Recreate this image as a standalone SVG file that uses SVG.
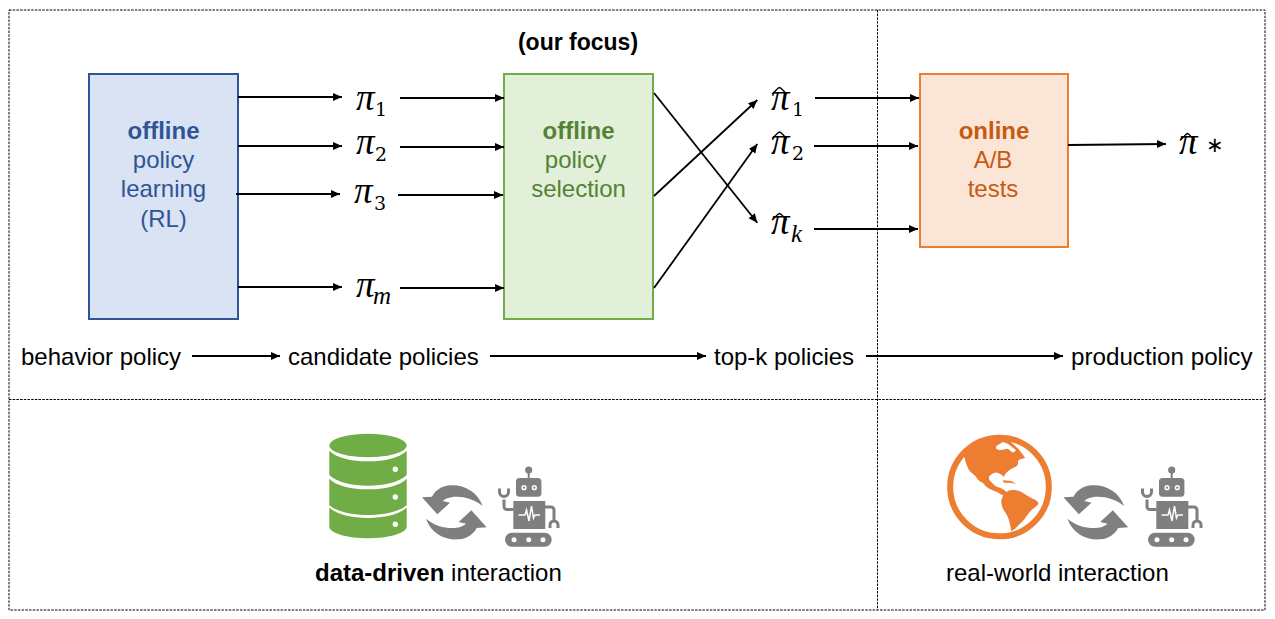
<svg xmlns="http://www.w3.org/2000/svg" xmlns:xlink="http://www.w3.org/1999/xlink" width="1275" height="619" viewBox="0 0 1275 619">
<style>
text{font-family:"Liberation Sans",Arial,sans-serif;font-size:24px;fill:#000}
.c{text-anchor:middle}
.b{font-weight:700}
.blue{fill:#2f5597}.green{fill:#548235}.orange{fill:#c55a11}
.m{font-family:"Liberation Serif","DejaVu Serif",serif;font-style:italic;font-size:37px}
.s{font-family:"DejaVu Serif","Liberation Serif",serif;font-size:19px}
.si{font-family:"Liberation Serif",serif;font-style:italic;font-size:25px}
.d{stroke:#000;stroke-width:1;stroke-dasharray:2.5 1.2;fill:none}
.a{stroke:#000;stroke-width:1.8;fill:none;marker-end:url(#ah)}
.hat{fill:none;stroke:#000;stroke-width:1.3}
.gray{fill:#7f7f7f}
.gs{fill:none;stroke:#7f7f7f;stroke-width:3}
.w{fill:#fff}
</style>
<defs>
<marker id="ah" markerUnits="userSpaceOnUse" markerWidth="10" markerHeight="10" refX="9" refY="4.5" orient="auto"><path d="M0,0.5L9,4.5L0,8.5z" fill="#000"/></marker>
<g id="robot">
<circle cx="528.7" cy="470" r="3.6" class="gray"/>
<rect x="527.7" y="470" width="2" height="9" class="gray"/>
<rect x="516" y="478" width="25.4" height="18.7" rx="3.5" class="gray"/>
<circle cx="524" cy="487.7" r="2.6" class="w"/><circle cx="534.3" cy="487.7" r="2.6" class="w"/>
<circle cx="524" cy="487.7" r="1.1" class="gray"/><circle cx="534.3" cy="487.7" r="1.1" class="gray"/>
<rect x="513.3" y="501" width="32" height="28" class="gray"/>
<path d="M518.500,515h6.500l1.500,-5l2.500,11l2.500,-15l2,12l1.500,-3h5" fill="none" stroke="#fff" stroke-width="1.500"/>
<path d="M513.500,509.500h-6.500a3,3 0 0 1 -3,-3v-7" class="gs"/>
<path d="M499.500,488.500v3.500a4.500,4.500 0 0 0 9,0v-3.500" class="gs"/>
<path d="M545,507h6a3,3 0 0 1 3,3v10" class="gs"/>
<path d="M550,528v-3a4,4 0 0 1 8,0v3" class="gs"/>
<rect x="505" y="532.700" width="46.700" height="14" rx="7" class="gray"/>
<circle cx="514" cy="539.700" r="2.500" class="w"/><circle cx="528.700" cy="539.700" r="2.500" class="w"/><circle cx="543" cy="539.700" r="2.500" class="w"/>
</g>
<g id="cycle" transform="translate(300,420) scale(.33333)">
<path class="gray" d="M548,258C532,212 488,192 448,196C425,198 405,212 396,230L366,232L412,283L450,248L428,243C445,225 505,222 548,258Z"/>
<path class="gray" d="M548,258C532,212 488,192 448,196C425,198 405,212 396,230L366,232L412,283L450,248L428,243C445,225 505,222 548,258Z" transform="rotate(180 463 277)"/>
</g>
</defs>

<g id="frame">
<rect x="9" y="10" width="1256" height="600" class="d"/>
<path d="M877.500,10V610M9,399.500H1265" class="d"/>
</g>

<text x="578" y="50" class="c b" style="font-size:23px">(our focus)</text>

<g id="node-offline-learning">
<rect x="89" y="74" width="149" height="245" fill="#dae3f3" stroke="#2f5597" stroke-width="2"/>
<text x="163.500" y="139" class="c b blue">offline</text>
<text x="163.500" y="168" class="c blue">policy</text>
<text x="163.500" y="197" class="c blue">learning</text>
<text x="163.500" y="227" class="c blue">(RL)</text>
</g>
<g id="node-offline-selection">
<rect x="504" y="74" width="149" height="245" fill="#e2f0d9" stroke="#70ad47" stroke-width="2"/>
<text x="578.500" y="139" class="c b green">offline</text>
<text x="575.500" y="168" class="c green">policy</text>
<text x="578.500" y="197" class="c green">selection</text>
</g>
<g id="node-online">
<rect x="920" y="74" width="148" height="173" fill="#fbe5d6" stroke="#ed7d31" stroke-width="2"/>
<text x="994" y="139" class="c b orange">online</text>
<text x="993" y="168" class="c orange">A/B</text>
<text x="993" y="197" class="c orange">tests</text>
</g>

<g id="connectors">
<path class="a" d="M238,97H342"/><path class="a" d="M238,146H342"/><path class="a" d="M236,194H340"/><path class="a" d="M238,287H342"/>
<path class="a" d="M400,98H504"/><path class="a" d="M400,147H504"/><path class="a" d="M398,195H503"/><path class="a" d="M400,288H504"/>
<path class="a" d="M654,93L757.300,222.700"/><path class="a" d="M654,196L757.300,100"/><path class="a" d="M654,288L757.300,144"/>
<path class="a" d="M815,98H919"/><path class="a" d="M814,146H918"/><path class="a" d="M814,229H918"/>
<path class="a" d="M1068,145L1166,144"/>
<path class="a" d="M192,356H280"/><path class="a" d="M490,356H706"/><path class="a" d="M866,356H1063"/>
</g>

<g id="pi-1"><text x="356" y="110" class="m">π</text><text x="375" y="116" class="s">1</text></g>
<g id="pi-2"><text x="356" y="154" class="m">π</text><text x="375" y="161" class="s">2</text></g>
<g id="pi-3"><text x="354" y="203" class="m">π</text><text x="374" y="210" class="s">3</text></g>
<g id="pi-m"><text x="356" y="297" class="m">π</text><text x="373" y="304" class="si">m</text></g>
<g id="pi-hat-1"><text x="771" y="110" class="m">π</text><path class="hat" d="M772,94C776,91 777,88 779.500,87.500C782,88 783,91 787,94"/><text x="792" y="116" class="s">1</text></g>
<g id="pi-hat-2"><text x="771" y="154" class="m">π</text><path class="hat" d="M772,138.500C776,135.500 777,132.500 779.500,132C782,132.500 783,135.500 787,138.500"/><text x="792" y="160" class="s">2</text></g>
<g id="pi-hat-k"><text x="771" y="234" class="m">π</text><path class="hat" d="M772,220C776,217 777,214 779.500,213.500C782,214 783,217 787,220"/><text x="791" y="242" class="si">k</text></g>
<g id="pi-hat-star"><text x="1179" y="154" class="m">π</text><path class="hat" d="M1180,140.500C1184,137.500 1185,134 1187.500,133.500C1190,134 1191,137.500 1195,140.500"/><text x="1206" y="152" style="font-family:'DejaVu Sans',sans-serif;font-size:21px">∗</text></g>

<text x="21" y="365">behavior policy</text>
<text x="288" y="365">candidate policies</text>
<text x="714" y="365">top-k policies</text>
<text x="1071" y="365" style="font-size:24.200px">production policy</text>

<g id="database">
<ellipse cx="368" cy="445.500" rx="38.700" ry="11.700" fill="#70ad47"/>
<path fill="#70ad47" d="M329.300,450.700C336,458 352,461.300 368,461.300C384,461.300 400,458 406.700,450.700V475C400,482 384,485.700 368,485.700C352,485.700 336,482 329.300,475Z"/>
<path fill="#70ad47" d="M329.300,478.700C336,486 352,489.300 368,489.300C384,489.300 400,486 406.700,478.700V505C400,511.500 384,515 368,515C352,515 336,511.500 329.300,505Z"/>
<path fill="#70ad47" d="M329.300,507.500C336,514.500 352,518 368,518C384,518 400,514.500 406.700,507.500V526.700C406.700,533 388,538.300 368,538.300C348,538.300 329.300,533 329.300,526.700Z"/>
<circle cx="395.300" cy="469.300" r="2.700" class="w"/><circle cx="395.300" cy="497" r="2.700" class="w"/><circle cx="395.300" cy="524.300" r="2.700" class="w"/>
</g>
<g id="cycle-left"><use xlink:href="#cycle" href="#cycle"/></g>
<g id="robot-left"><use xlink:href="#robot" href="#robot"/></g>
<text x="315" y="581"><tspan class="b">data-driven</tspan> interaction</text>

<g id="globe" transform="translate(944.500,432) scale(.33333)" fill="#ed7d31">
<circle cx="165" cy="165" r="148" fill="#fff" stroke="#ed7d31" stroke-width="18"/>
<path d="M58,70C62,85 66,100 72,112C80,125 92,128 98,140C105,150 112,148 118,155C125,168 140,172 152,178C160,180 168,188 175,190L188,182C180,172 170,168 158,165C148,160 140,150 135,145C130,135 135,128 150,122C160,120 172,128 178,135C182,125 190,115 205,108C215,104 224,100 220,88C225,80 235,80 242,78L238,72C228,58 215,42 198,29L165,15L100,30Z"/>
<path fill="#fff" d="M155,42L175,30L190,35L215,55L205,62L190,50L165,55L155,50Z"/>
<path d="M175,145L200,147L215,155L195,152L178,152Z"/>
<path d="M172,200C178,180 195,170 215,175C235,178 250,195 265,200C278,205 285,212 280,218C268,228 255,238 248,250C238,268 222,278 212,290L200,298C198,275 190,250 180,238C172,225 168,210 172,200Z"/>
</g>
<g id="cycle-right" transform="translate(641.500,0)"><use xlink:href="#cycle" href="#cycle"/></g>
<g id="robot-right" transform="translate(643,0)"><use xlink:href="#robot" href="#robot"/></g>
<text x="946" y="581">real-world interaction</text>
</svg>
